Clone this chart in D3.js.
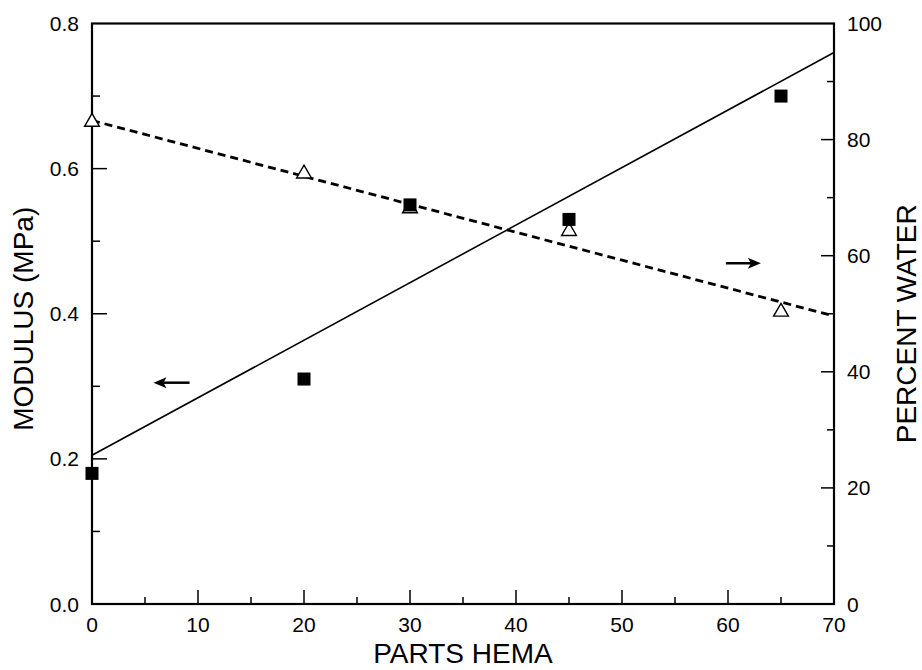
<!DOCTYPE html>
<html lang="en">
<head>
    <meta charset="UTF-8">
    <title>Modulus and percent water vs parts HEMA</title>
    <style>
        body { margin: 0; background: #fff; }
        svg { display: block; font-family: "Liberation Sans", Arial, sans-serif; }
        .tick-label { font-size: 21px; fill: #000; }
        .axis-title { font-size: 28px; fill: #000; }
    </style>
    <script src="https://d3js.org/d3.v7.min.js"></script>
</head>
<body>
    <div id="chart"></div>
    <script>
        // data
        const hema = [0, 20, 30, 45, 65];
        const modulus = [0.18, 0.31, 0.55, 0.53, 0.70];
        const water = [83.2, 74.3, 68.3, 64.4, 50.5];

        // fitted lines (end points)
        const fitX = [0, 70];
        const fitModulus = [0.205, 0.76];
        const fitWater = [83.3, 49.6];

        // arrows telling which axis goes with which line
        const leftArrow = {x: [5.8, 9.2], y: 0.305};
        const rightArrow = {x: [59.8, 63.1], y: 58.7};

        const xTicks = [0, 10, 20, 30, 40, 50, 60, 70];
        const yLeftTicks = [0, 0.2, 0.4, 0.6, 0.8];
        const yRightTicks = [0, 20, 40, 60, 80, 100];

        const W = 922, H = 670;
        const margin = {top: 23.5, right: 88, bottom: 66, left: 92};
        const width = W - margin.left - margin.right;
        const height = H - margin.top - margin.bottom;

        const svg = d3.select("#chart").append("svg")
            .attr("width", W)
            .attr("height", H);

        const g = svg.append("g")
            .attr("transform", `translate(${margin.left},${margin.top})`);

        const x = d3.scaleLinear().domain([0, 70]).range([0, width]);
        const yL = d3.scaleLinear().domain([0, 0.8]).range([height, 0]);
        const yR = d3.scaleLinear().domain([0, 100]).range([height, 0]);

        // frame
        g.append("rect")
            .attr("width", width)
            .attr("height", height)
            .attr("fill", "none")
            .attr("stroke", "#000")
            .attr("stroke-width", 2.2);

        // bottom axis: major every 10, minor every 5, ticks inward
        const xAxis = g.append("g").attr("transform", `translate(0,${height})`);
        xAxis.selectAll("line.minor")
            .data(d3.range(5, 70, 10))
            .enter().append("line")
            .attr("x1", d => x(d)).attr("x2", d => x(d))
            .attr("y1", 0).attr("y2", -7)
            .attr("stroke", "#000").attr("stroke-width", 1.5);
        xAxis.selectAll("line.major")
            .data(xTicks.slice(1, -1))
            .enter().append("line")
            .attr("x1", d => x(d)).attr("x2", d => x(d))
            .attr("y1", 0).attr("y2", -14)
            .attr("stroke", "#000").attr("stroke-width", 1.5);
        xAxis.selectAll("text")
            .data(xTicks)
            .enter().append("text")
            .attr("class", "tick-label")
            .attr("x", d => x(d))
            .attr("y", 28)
            .attr("text-anchor", "middle")
            .text(d => d);

        // left axis
        const lAxis = g.append("g");
        lAxis.selectAll("line.minor")
            .data(d3.range(0.1, 0.8, 0.2))
            .enter().append("line")
            .attr("x1", 0).attr("x2", 8)
            .attr("y1", d => yL(d)).attr("y2", d => yL(d))
            .attr("stroke", "#000").attr("stroke-width", 1.5);
        lAxis.selectAll("line.major")
            .data(yLeftTicks.slice(1, -1))
            .enter().append("line")
            .attr("x1", 0).attr("x2", 15)
            .attr("y1", d => yL(d)).attr("y2", d => yL(d))
            .attr("stroke", "#000").attr("stroke-width", 1.5);
        lAxis.selectAll("text")
            .data(yLeftTicks)
            .enter().append("text")
            .attr("class", "tick-label")
            .attr("x", -13)
            .attr("y", d => yL(d))
            .attr("dy", "0.36em")
            .attr("text-anchor", "end")
            .text(d => d3.format(".1f")(d));

        // right axis
        const rAxis = g.append("g").attr("transform", `translate(${width},0)`);
        rAxis.selectAll("line.minor")
            .data(d3.range(10, 100, 20))
            .enter().append("line")
            .attr("x1", 0).attr("x2", -7)
            .attr("y1", d => yR(d)).attr("y2", d => yR(d))
            .attr("stroke", "#000").attr("stroke-width", 1.5);
        rAxis.selectAll("line.major")
            .data(yRightTicks.slice(1, -1))
            .enter().append("line")
            .attr("x1", 0).attr("x2", -13)
            .attr("y1", d => yR(d)).attr("y2", d => yR(d))
            .attr("stroke", "#000").attr("stroke-width", 1.5);
        rAxis.selectAll("text")
            .data(yRightTicks)
            .enter().append("text")
            .attr("class", "tick-label")
            .attr("x", 13)
            .attr("y", d => yR(d))
            .attr("dy", "0.36em")
            .attr("text-anchor", "start")
            .text(d => d);

        // axis titles
        svg.append("text")
            .attr("class", "axis-title")
            .attr("x", margin.left + x(35))
            .attr("y", 663)
            .attr("text-anchor", "middle")
            .text("PARTS HEMA");
        svg.append("text")
            .attr("class", "axis-title")
            .attr("transform", `translate(33,${margin.top + yL(0.4) + 5}) rotate(-90)`)
            .attr("text-anchor", "middle")
            .text("MODULUS (MPa)");
        svg.append("text")
            .attr("class", "axis-title")
            .attr("transform", `translate(916,${margin.top + yR(50) + 10}) rotate(-90)`)
            .attr("text-anchor", "middle")
            .text("PERCENT WATER");

        // fitted lines
        const fitPts = fitX.map((d, i) => ({x: d, m: fitModulus[i], w: fitWater[i]}));
        g.append("path")
            .datum(fitPts)
            .attr("d", d3.line().x(d => x(d.x)).y(d => yL(d.m)))
            .attr("fill", "none")
            .attr("stroke", "#000")
            .attr("stroke-width", 1.6);
        g.append("path")
            .datum(fitPts)
            .attr("d", d3.line().x(d => x(d.x)).y(d => yR(d.w)))
            .attr("fill", "none")
            .attr("stroke", "#000")
            .attr("stroke-width", 2.8)
            .attr("stroke-dasharray", "8,5");

        // open triangles (percent water)
        const tri = d3.symbol().type(d3.symbolTriangle).size(95);
        g.selectAll("path.tri")
            .data(hema)
            .enter().append("path")
            .attr("class", "tri")
            .attr("d", tri)
            .attr("transform", (d, i) => `translate(${x(d)},${yR(water[i]) + 1})`)
            .attr("fill", "#fff")
            .attr("stroke", "#000")
            .attr("stroke-width", 1.4);

        // filled squares (modulus)
        const sq = 13;
        g.selectAll("rect.sq")
            .data(hema)
            .enter().append("rect")
            .attr("class", "sq")
            .attr("x", d => x(d) - sq / 2)
            .attr("y", (d, i) => yL(modulus[i]) - sq / 2)
            .attr("width", sq)
            .attr("height", sq)
            .attr("fill", "#000");

        // arrows
        function arrow(x1, x2, yy, headRight) {
            const tip = headRight ? x(x2) : x(x1);
            const tail = headRight ? x(x1) : x(x2);
            const dir = headRight ? -1 : 1;
            g.append("line")
                .attr("x1", tail).attr("x2", tip + dir * 8)
                .attr("y1", yy).attr("y2", yy)
                .attr("stroke", "#000")
                .attr("stroke-width", 2.5);
            g.append("path")
                .attr("d", `M${tip},${yy} L${tip + dir * 13},${yy - 5.5} L${tip + dir * 10},${yy} L${tip + dir * 13},${yy + 5.5} Z`)
                .attr("fill", "#000");
        }
        arrow(leftArrow.x[0], leftArrow.x[1], yL(leftArrow.y), false);
        arrow(rightArrow.x[0], rightArrow.x[1], yR(rightArrow.y), true);
    </script>
</body>
</html>
